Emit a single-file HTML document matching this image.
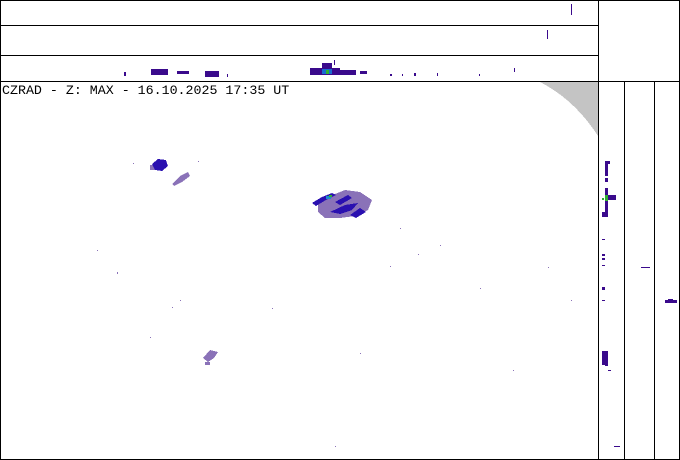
<!DOCTYPE html>
<html><head><style>
html,body{margin:0;padding:0;background:#fff;}
svg{display:block;}
</style></head><body>
<svg width="680" height="460" xmlns="http://www.w3.org/2000/svg" shape-rendering="crispEdges">
<rect x="0" y="0" width="680" height="460" fill="#fff"/>
<path d="M540,82 Q575,100 598,136 L598,82 Z" fill="#c4c4c4"/>
<g stroke="#000" stroke-width="1" fill="none">
<rect x="0.5" y="0.5" width="679" height="459"/>
<line x1="0" y1="25.5" x2="598" y2="25.5"/>
<line x1="0" y1="55.5" x2="598" y2="55.5"/>
<line x1="0" y1="81.5" x2="680" y2="81.5"/>
<line x1="598.5" y1="0" x2="598.5" y2="460"/>
<line x1="624.5" y1="82" x2="624.5" y2="460"/>
<line x1="654.5" y1="82" x2="654.5" y2="460"/>
</g>
<text x="2" y="94" font-family="Liberation Mono, monospace" font-size="13.3" fill="#000">CZRAD - Z: MAX - 16.10.2025 17:35 UT</text>
<g fill="#3a0a8c">
<rect x="571" y="4" width="1" height="11"/>
<rect x="547" y="30" width="1" height="9"/>
<rect x="124" y="72" width="2" height="4"/>
<rect x="151" y="69" width="17" height="6"/>
<rect x="177" y="71" width="12" height="3"/>
<rect x="205" y="71" width="14" height="6"/>
<rect x="227" y="74" width="1" height="3"/>
<rect x="310" y="68" width="30" height="7"/>
<rect x="322" y="63" width="10" height="5"/>
<rect x="334" y="60" width="1" height="5"/>
<rect x="340" y="70" width="16" height="5"/>
<rect x="360" y="71" width="7" height="3"/>
<rect x="390" y="74" width="2" height="2"/>
<rect x="402" y="74" width="1" height="2"/>
<rect x="414" y="73" width="2" height="3"/>
<rect x="437" y="73" width="1" height="3"/>
<rect x="479" y="74" width="1" height="2"/>
<rect x="514" y="68" width="1" height="4"/>
</g>
<rect x="322" y="69" width="10" height="5" fill="#1a6ad0"/>
<rect x="326" y="70" width="3" height="4" fill="#30b030"/>
<g fill="#8a72b8">
<polygon points="318,204 330,196 345,190 360,192 372,200 368,210 355,216 340,218 325,218 318,212"/>
<polygon points="172,184 180,176 188,172 190,176 182,182 174,186"/>
<polygon points="203,358 210,350 218,352 214,358 208,362"/>
<rect x="205" y="362" width="5" height="3"/>
<rect x="150" y="165" width="6" height="5"/>
</g>
<g fill="#2a10b0">
<polygon points="152,164 158,159 166,160 168,166 162,171 155,170"/>
<polygon points="312,203 322,197 332,193 336,195 326,200 316,206"/>
<polygon points="335,202 348,195 352,198 340,205"/>
<polygon points="330,212 345,205 358,203 352,210 340,214"/>
<polygon points="350,215 360,208 366,212 356,218"/>
</g>
<rect x="326" y="196" width="5" height="3" fill="#1a8ad0"/>
<rect x="329" y="195" width="3" height="2" fill="#30b030"/>
<g fill="#3a0a8c">
<rect x="605" y="161" width="5" height="3"/>
<rect x="605" y="164" width="3" height="12"/>
<rect x="605" y="178" width="3" height="4"/>
<rect x="605" y="188" width="3" height="28"/>
<rect x="602" y="212" width="6" height="5"/>
<rect x="608" y="195" width="8" height="5"/>
<rect x="602" y="239" width="3" height="1"/>
<rect x="602" y="254" width="3" height="2"/>
<rect x="602" y="258" width="3" height="2"/>
<rect x="602" y="265" width="3" height="1"/>
<rect x="602" y="287" width="3" height="3"/>
<rect x="602" y="300" width="3" height="1"/>
<rect x="602" y="351" width="6" height="14"/>
<rect x="605" y="365" width="3" height="1"/>
<rect x="608" y="370" width="3" height="1"/>
<rect x="614" y="446" width="6" height="1"/>
<rect x="641" y="267" width="9" height="1"/>
<rect x="665" y="300" width="12" height="3"/>
<rect x="668" y="299" width="5" height="1"/>
</g>
<rect x="605" y="195" width="3" height="6" fill="#30b030"/>
<rect x="602" y="198" width="2" height="2" fill="#30b030"/>
<g fill="#8a72b8">
<rect x="133" y="163" width="1" height="1"/><rect x="198" y="161" width="1" height="1"/>
<rect x="97" y="250" width="1" height="1"/><rect x="117" y="272" width="1" height="2"/>
<rect x="180" y="300" width="1" height="1"/><rect x="172" y="307" width="1" height="1"/>
<rect x="272" y="308" width="1" height="1"/><rect x="390" y="266" width="1" height="1"/>
<rect x="418" y="254" width="1" height="1"/><rect x="480" y="288" width="1" height="1"/>
<rect x="548" y="267" width="1" height="1"/><rect x="571" y="300" width="1" height="1"/>
<rect x="400" y="228" width="1" height="1"/><rect x="440" y="245" width="1" height="1"/>
<rect x="513" y="370" width="1" height="1"/><rect x="335" y="446" width="1" height="1"/>
<rect x="150" y="337" width="1" height="1"/><rect x="360" y="353" width="1" height="1"/>
</g>
</svg>
</body></html>
